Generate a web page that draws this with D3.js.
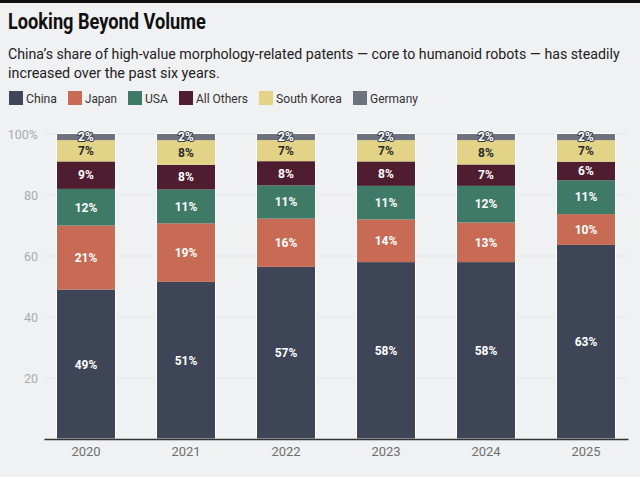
<!DOCTYPE html>
<html>
<head>
<meta charset="utf-8">
<script src="https://cdn.jsdelivr.net/npm/d3@7"></script>
<style>
  body { margin: 0; background: #f0f1f3; }
  svg { display: block; }
</style>
</head>
<body>
<div id="chart"></div>
<script>
// DATA
const years = ["2020", "2021", "2022", "2023", "2024", "2025"];
const countries = ["China", "Japan", "USA", "All Others", "South Korea", "Germany"];
const china = [49, 51, 57, 58, 58, 63];
const japan = [21, 19, 16, 14, 13, 10];
const usa = [12, 11, 11, 11, 12, 11];
const allOthers = [9, 8, 8, 8, 7, 6];
const southKorea = [7, 8, 7, 7, 8, 7];
const germany = [2, 2, 2, 2, 2, 2];
const yTicks = [20, 40, 60, 80, 100];

const colors = ["#3d4557", "#c76b55", "#3f7a66", "#4e1d30", "#e3d386", "#6d727e"];

const width = 640, height = 477;
const margin = {top: 134, right: 12, bottom: 38, left: 44};

// build rows for the stack
const series = [china, japan, usa, allOthers, southKorea, germany];
const rows = years.map((y, i) => {
    const r = {year: y};
    countries.forEach((c, j) => r[c] = series[j][i]);
    return r;
});

const stack = d3.stack()
    .keys(countries)
    .offset(d3.stackOffsetExpand); // rounded labels sum to 99/101, bars still fill 100%
const stacked = stack(rows);

// squeeze a text horizontally so it spans w px (the original uses a condensed face)
function fitText(sel, x, y, w) {
    const natural = sel.node().getComputedTextLength();
    const k = w / natural;
    sel.attr("x", 0).attr("y", 0)
        .attr("transform", `translate(${x}, ${y}) scale(${k}, 1)`);
}

// SVG
const svg = d3.select('#chart')
    .append("svg")
    .attr("width", width)
    .attr("height", height)
    .style("background-color", "#f0f1f3");

// top black strip
svg.append("rect")
    .attr("x", 0).attr("y", 0)
    .attr("width", width).attr("height", 3)
    .attr("fill", "#111");

// TITLE + SUBTITLE
const title = svg.append("text")
    .style("font-family", "Roboto, sans-serif")
    .style("font-size", "22px")
    .style("font-weight", "bold")
    .style("fill", "#111")
    .text("Looking Beyond Volume");
fitText(title, 8, 29, 198);

const sub = [
    "China\u2019s share of high-value morphology-related patents \u2014 core to humanoid robots \u2014 has steadily",
    "increased over the past six years."
];
const subLen = [612, 212];
sub.forEach((t, i) => {
    const s = svg.append("text")
        .style("font-family", "Roboto, sans-serif")
        .style("font-size", "15px")
        .style("fill", "#222")
        .text(t);
    fitText(s, 8, 59 + i * 19, subLen[i]);
});

// LEGEND
const legendX = [9, 68, 128, 179, 259, 353];
const legendW = [31, 32, 23, 52, 66, 48];
const legend = svg.append("g").attr("class", "legend");
countries.forEach((c, i) => {
    legend.append("rect")
        .attr("x", legendX[i]).attr("y", 91)
        .attr("width", 14).attr("height", 14)
        .attr("fill", colors[i]);
    const t = legend.append("text")
        .style("font-family", "Roboto, sans-serif")
        .style("font-size", "13.5px")
        .style("fill", "#333")
        .text(c);
    fitText(t, legendX[i] + 17, 103, legendW[i]);
});

// SCALES
const xScale = d3.scaleBand()
    .domain(years)
    .range([margin.left, width - margin.right])
    .paddingInner(0.42)
    .paddingOuter(0.13);

const yScale = d3.scaleLinear()
    .domain([0, 100])
    .range([height - margin.bottom, margin.top]);

// GRID
svg.append("g")
    .selectAll("line")
    .data(yTicks)
    .join("line")
    .attr("x1", margin.left)
    .attr("x2", width - margin.right)
    .attr("y1", d => yScale(d))
    .attr("y2", d => yScale(d))
    .attr("stroke", "#e3e5e8")
    .attr("stroke-width", 1);

// Y AXIS
const yAxis = d3.axisLeft(yScale)
    .tickValues(yTicks)
    .tickSize(0)
    .tickPadding(6)
    .tickFormat(d => d === 100 ? "100%" : d);

const yAxisGroup = svg.append("g")
    .attr("class", "yAxis")
    .attr("transform", `translate(${margin.left}, 0)`)
    .call(yAxis);
yAxisGroup.select(".domain").remove();
yAxisGroup.selectAll("text")
    .style("font-family", "Roboto, sans-serif")
    .style("font-size", "12.5px")
    .style("fill", "#a9abaf");

// BARS
const layers = svg.append("g")
    .selectAll("g.layer")
    .data(stacked)
    .join("g")
    .attr("class", "layer")
    .attr("fill", (d, i) => colors[i]);

layers.selectAll("rect")
    .data(d => d)
    .join("rect")
    .attr("x", d => xScale(d.data.year))
    .attr("width", xScale.bandwidth())
    .attr("y", d => yScale(d[1] * 100))
    .attr("height", d => yScale(d[0] * 100) - yScale(d[1] * 100));

// thin light outline around each bar
svg.append("g")
    .selectAll("rect")
    .data(rows)
    .join("rect")
    .attr("x", d => xScale(d.year) - 0.5)
    .attr("width", xScale.bandwidth() + 1)
    .attr("y", yScale(100) - 0.5)
    .attr("height", yScale(0) - yScale(100) + 0.5)
    .attr("fill", "none")
    .attr("stroke", "#ffffff")
    .attr("stroke-width", 1);

// LABELS
stacked.forEach((layer, i) => {
    svg.append("g")
        .selectAll("text")
        .data(layer)
        .join("text")
        .attr("x", d => xScale(d.data.year) + xScale.bandwidth() / 2)
        .attr("y", d => yScale((d[0] + d[1]) / 2 * 100))
        .attr("dy", "0.36em")
        .attr("text-anchor", "middle")
        .style("font-family", "Roboto, sans-serif")
        .style("font-size", "12px")
        .style("font-weight", "bold")
        .style("fill", countries[i] === "South Korea" ? "#2b2b2b" : "#ffffff")
        .style("stroke", countries[i] === "Germany" ? "#3a3f4a" : "none")
        .style("stroke-width", 2)
        .style("paint-order", "stroke")
        .text(d => d.data[layer.key] + "%");
});

// X AXIS
const xAxis = d3.axisBottom(xScale).tickSize(0).tickPadding(8);
const xAxisGroup = svg.append("g")
    .attr("class", "xAxis")
    .attr("transform", `translate(0, ${height - margin.bottom})`)
    .call(xAxis);
xAxisGroup.select(".domain")
    .attr("stroke", "#333")
    .attr("stroke-width", 1.5);
xAxisGroup.selectAll("text")
    .style("font-family", "Roboto, sans-serif")
    .style("font-size", "13px")
    .style("fill", "#6f6f6f");
</script>
</body>
</html>
